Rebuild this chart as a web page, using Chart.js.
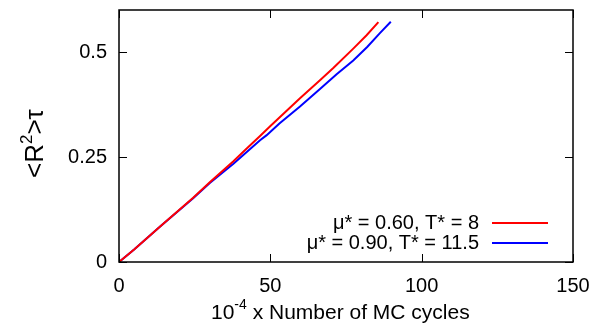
<!DOCTYPE html>
<html>
<head>
<meta charset="utf-8">
<script src="https://cdn.jsdelivr.net/npm/chart.js@4"></script>
<style>
  html, body { margin: 0; padding: 0; background: #fff; }
  #wrap { width: 592px; height: 325px; }
</style>
</head>
<body>
<div id="wrap"><canvas id="chart" width="592" height="325"></canvas></div>
<script>
// data
const redX  = [0, 5, 13.5, 24.5, 30, 37.8, 42.2, 46.6, 50.2, 55.4, 59.8, 66.4, 70.8, 77.4, 81.8, 85.7];
const redY  = [0, 0.03, 0.084, 0.153, 0.19, 0.240, 0.270, 0.300, 0.325, 0.360, 0.390, 0.433, 0.462, 0.508, 0.540, 0.571];
const blueX = [0, 5, 13.5, 24.5, 30, 37.8, 46.6, 48.8, 53, 59.8, 66.4, 71.9, 77.4, 82, 86.2, 89.8];
const blueY = [0, 0.03, 0.084, 0.152, 0.188, 0.234, 0.290, 0.302, 0.330, 0.370, 0.412, 0.447, 0.480, 0.512, 0.545, 0.572];
const xTicks = [0, 50, 100, 150];
const yTicks = [0, 0.25, 0.5];
const labels = ['\u03bc* = 0.60, T* = 8', '\u03bc* = 0.90, T* = 11.5'];
const colors = ['#ff0000', '#0000ff'];

const FONT = '"Liberation Sans", Arial, sans-serif';

function pts(xs, ys) {
  return xs.map((x, i) => ({ x: x, y: ys[i] }));
}

// frame, inward ticks, legend and axis titles
const decor = {
  id: 'decor',
  afterDraw(chart) {
    const ctx = chart.ctx;
    const a = chart.chartArea;
    const xs = chart.scales.x, ys = chart.scales.y;
    ctx.save();
    ctx.strokeStyle = '#000';
    ctx.lineWidth = 1.5;
    ctx.strokeRect(a.left, a.top, a.right - a.left, a.bottom - a.top);
    ctx.lineWidth = 1;
    const tl = 8;
    ctx.beginPath();
    xTicks.forEach(v => {
      const px = Math.round(xs.getPixelForValue(v)) + 0.5;
      ctx.moveTo(px, a.bottom); ctx.lineTo(px, a.bottom - tl);
      ctx.moveTo(px, a.top); ctx.lineTo(px, a.top + tl);
    });
    yTicks.forEach(v => {
      const py = Math.round(ys.getPixelForValue(v)) + 0.5;
      ctx.moveTo(a.left, py); ctx.lineTo(a.left + tl, py);
      ctx.moveTo(a.right, py); ctx.lineTo(a.right - tl, py);
    });
    ctx.stroke();

    // legend
    ctx.font = '20px ' + FONT;
    ctx.textAlign = 'right';
    ctx.textBaseline = 'middle';
    ctx.fillStyle = '#000';
    const rows = [223, 243];
    labels.forEach((t, i) => {
      ctx.fillText(t, 479, rows[i]);
      ctx.strokeStyle = colors[i];
      ctx.lineWidth = 2;
      ctx.beginPath();
      ctx.moveTo(492, rows[i]); ctx.lineTo(548, rows[i]);
      ctx.stroke();
    });

    // x title with superscript
    ctx.fillStyle = '#000';
    ctx.textBaseline = 'alphabetic';
    ctx.textAlign = 'left';
    const big = '21px ' + FONT, small = '14px ' + FONT;
    ctx.font = big;
    const w1 = ctx.measureText('10').width;
    ctx.font = small;
    const w2 = ctx.measureText('-4').width;
    let x0 = 211;
    const base = 319;
    ctx.font = big; ctx.fillText('10', x0, base); x0 += w1;
    ctx.font = small; ctx.fillText('-4', x0, base - 10); x0 += w2;
    ctx.font = big; ctx.fillText(' x Number of MC cycles', x0, base);

    // y title rotated
    ctx.translate(43, 178);
    ctx.rotate(-Math.PI / 2);
    const yb = '26px ' + FONT, ys2 = '17px ' + FONT;
    let p = 0;
    ctx.font = yb; ctx.fillText('<R', p, 0); p += ctx.measureText('<R').width;
    ctx.font = ys2; ctx.fillText('2', p, -11); p += ctx.measureText('2').width;
    ctx.font = yb; ctx.fillText('>\u03c4', p, 0);
    ctx.restore();
  }
};

new Chart(document.getElementById('chart').getContext('2d'), {
  type: 'line',
  data: {
    datasets: [
      { label: labels[0], data: pts(redX, redY), borderColor: colors[0], borderWidth: 2, pointRadius: 0, tension: 0, fill: false },
      { label: labels[1], data: pts(blueX, blueY), borderColor: colors[1], borderWidth: 2, pointRadius: 0, tension: 0, fill: false }
    ]
  },
  options: {
    responsive: false,
    animation: false,
    devicePixelRatio: 1,
    layout: { padding: { top: 10, right: 19, left: 0, bottom: 0 } },
    plugins: { legend: { display: false }, tooltip: { enabled: false } },
    scales: {
      x: {
        type: 'linear', min: 0, max: 150,
        afterBuildTicks: s => { s.ticks = xTicks.map(v => ({ value: v })); },
        afterFit: s => { s.height = 63; s.paddingLeft = 0; s.paddingRight = 0; },
        grid: { display: false, drawTicks: false },
        border: { display: false },
        ticks: { color: '#000', font: { family: FONT, size: 20 }, padding: 12, maxRotation: 0 }
      },
      y: {
        type: 'linear', min: 0, max: 0.6,
        afterBuildTicks: s => { s.ticks = yTicks.map(v => ({ value: v })); },
        afterFit: s => { s.width = 119; s.paddingTop = 0; s.paddingBottom = 0; },
        grid: { display: false, drawTicks: false },
        border: { display: false },
        ticks: { color: '#000', font: { family: FONT, size: 20 }, padding: 12, callback: v => String(v) }
      }
    }
  },
  plugins: [decor]
});
</script>
</body>
</html>
